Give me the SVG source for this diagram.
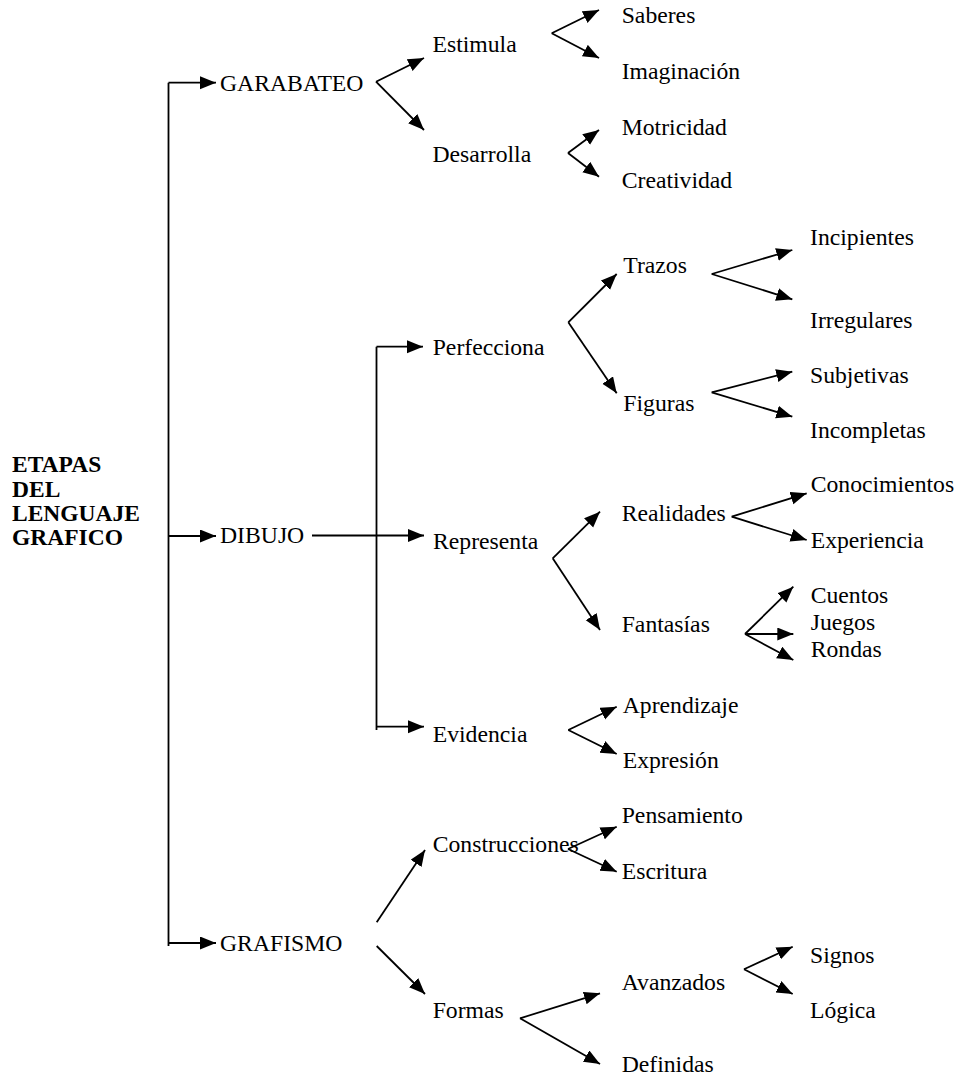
<svg xmlns="http://www.w3.org/2000/svg" width="959" height="1080" viewBox="0 0 959 1080">
<style>
text{font-family:"Liberation Serif","Times New Roman",serif;font-size:23.7px;fill:#000}
.t{font-weight:bold;font-size:23.5px}
.c line,.c polyline{stroke:#000;stroke-width:1.8;fill:none}
.a{marker-end:url(#ah)}
</style>
<defs>
<marker id="ah" markerUnits="userSpaceOnUse" markerWidth="17" markerHeight="14" refX="16" refY="6.5" orient="auto">
<path d="M0,0 L16,6.5 L0,13 z" fill="#000"/>
</marker>
</defs>
<g id="connectors" class="c">
<line x1="168.5" y1="82.7" x2="168.5" y2="946"/>
<line class="a" x1="168.5" y1="82.7" x2="216" y2="82.7"/>
<line class="a" x1="168.5" y1="536" x2="216" y2="536"/>
<line class="a" x1="168.5" y1="943" x2="216" y2="943"/>
<line class="a" x1="376" y1="81.7" x2="424" y2="58"/>
<line class="a" x1="376" y1="81.7" x2="424" y2="130"/>
<line class="a" x1="551.7" y1="33.3" x2="599" y2="10"/>
<line class="a" x1="551.7" y1="33.3" x2="599" y2="58"/>
<line class="a" x1="568" y1="153" x2="599" y2="130"/>
<line class="a" x1="568" y1="153" x2="599" y2="176.7"/>
<line class="a" x1="312" y1="535.5" x2="424" y2="535.5"/>
<line x1="376.5" y1="346.7" x2="376.5" y2="730"/>
<line class="a" x1="376.5" y1="346.7" x2="423" y2="346.7"/>
<line class="a" x1="376.5" y1="726.7" x2="424" y2="726.7"/>
<line class="a" x1="568.3" y1="322.3" x2="616.7" y2="274"/>
<line class="a" x1="568.3" y1="322.3" x2="616.7" y2="393.3"/>
<line class="a" x1="711.7" y1="274" x2="792.3" y2="250"/>
<line class="a" x1="711.7" y1="274" x2="792.3" y2="299.3"/>
<line class="a" x1="711.7" y1="392.3" x2="792.3" y2="371.7"/>
<line class="a" x1="711.7" y1="392.3" x2="792.3" y2="416.7"/>
<line class="a" x1="552.7" y1="558.3" x2="600" y2="511.7"/>
<line class="a" x1="552.7" y1="558.3" x2="600" y2="630"/>
<line class="a" x1="731.7" y1="516.7" x2="806.7" y2="493.3"/>
<line class="a" x1="731.7" y1="516.7" x2="806.7" y2="540"/>
<line class="a" x1="745" y1="634" x2="793.3" y2="586.7"/>
<line class="a" x1="745" y1="634" x2="793.3" y2="634"/>
<line class="a" x1="745" y1="634" x2="793.3" y2="660"/>
<line class="a" x1="568.3" y1="730" x2="616.7" y2="706.7"/>
<line class="a" x1="568.3" y1="730" x2="616.7" y2="754"/>
<line class="a" x1="376.7" y1="922.3" x2="425" y2="850"/>
<line class="a" x1="376.7" y1="946" x2="425" y2="994"/>
<line class="a" x1="568" y1="849" x2="616.7" y2="826.7"/>
<line class="a" x1="568" y1="849" x2="616.7" y2="871.7"/>
<line class="a" x1="520" y1="1018.3" x2="600" y2="993.3"/>
<line class="a" x1="520" y1="1018.3" x2="600" y2="1064"/>
<line class="a" x1="744" y1="969.3" x2="792.7" y2="946.7"/>
<line class="a" x1="744" y1="969.3" x2="792.7" y2="994"/>
</g>
<g id="root"><text class="t" x="12" y="472">ETAPAS</text><text class="t" x="12" y="496.5">DEL</text><text class="t" x="12" y="521">LENGUAJE</text><text class="t" x="12" y="545">GRAFICO</text></g>
<g id="garabateo"><text x="220" y="91">GARABATEO</text></g>
<g id="estimula"><text x="432.5" y="52">Estimula</text></g>
<g id="desarrolla"><text x="432.5" y="162">Desarrolla</text></g>
<g id="saberes"><text x="621.7" y="23.3">Saberes</text></g>
<g id="imaginacion"><text x="621.7" y="79">Imaginación</text></g>
<g id="motricidad"><text x="621.7" y="135">Motricidad</text></g>
<g id="creatividad"><text x="621.7" y="188.3">Creatividad</text></g>
<g id="dibujo"><text x="220" y="542.7">DIBUJO</text></g>
<g id="perfecciona"><text x="432.7" y="355">Perfecciona</text></g>
<g id="trazos"><text x="623.3" y="273.3">Trazos</text></g>
<g id="figuras"><text x="623.3" y="410.7">Figuras</text></g>
<g id="incipientes"><text x="810" y="245">Incipientes</text></g>
<g id="irregulares"><text x="810" y="328.3">Irregulares</text></g>
<g id="subjetivas"><text x="810" y="383.3">Subjetivas</text></g>
<g id="incompletas"><text x="810" y="438.3">Incompletas</text></g>
<g id="representa"><text x="433" y="549">Representa</text></g>
<g id="realidades"><text x="621.7" y="520.7">Realidades</text></g>
<g id="fantasias"><text x="621.7" y="631.7">Fantasías</text></g>
<g id="conocimientos"><text x="810.7" y="491.7">Conocimientos</text></g>
<g id="experiencia"><text x="810.7" y="548.3">Experiencia</text></g>
<g id="cuentos"><text x="810.7" y="603.3">Cuentos</text></g>
<g id="juegos"><text x="810.7" y="630">Juegos</text></g>
<g id="rondas"><text x="810.7" y="657.3">Rondas</text></g>
<g id="evidencia"><text x="432.7" y="741.7">Evidencia</text></g>
<g id="aprendizaje"><text x="622.7" y="713.3">Aprendizaje</text></g>
<g id="expresion"><text x="622.7" y="768.3">Expresión</text></g>
<g id="grafismo"><text x="220" y="951">GRAFISMO</text></g>
<g id="construcciones"><text x="432.7" y="851.7">Construcciones</text></g>
<g id="pensamiento"><text x="621.7" y="823.3">Pensamiento</text></g>
<g id="escritura"><text x="621.7" y="879.3">Escritura</text></g>
<g id="formas"><text x="432.7" y="1018.3">Formas</text></g>
<g id="avanzados"><text x="621.7" y="990">Avanzados</text></g>
<g id="definidas"><text x="621.7" y="1071.7">Definidas</text></g>
<g id="signos"><text x="810" y="963.3">Signos</text></g>
<g id="logica"><text x="810" y="1018.3">Lógica</text></g>
</svg>
